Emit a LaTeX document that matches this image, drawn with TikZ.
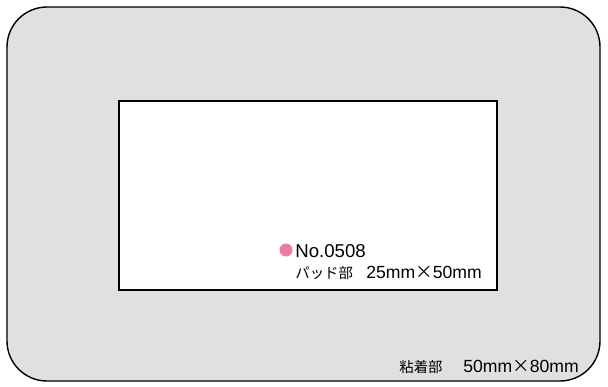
\documentclass[tikz,border=0pt]{standalone}
\usepackage{fontspec}
\setmainfont{Liberation Sans}
\newfontfamily\jpfont{Noto Sans CJK JP}
\newcommand{\bytimes}{{\jpfont ×}}
\definecolor{padpink}{HTML}{EC7BA4}
\definecolor{tapegray}{HTML}{E0E0E0}
\tikzset{
  lbl/.style={inner sep=0pt, anchor=base west},
}

\begin{document}
\begin{tikzpicture}[x=0.5pt,y=-0.5pt]
		\useasboundingbox (0,0) rectangle (608,386);
		% adhesive part
		\draw[fill=tapegray, line width=0.7pt, rounded corners=20pt] (7,7) rectangle (600,381);
		% pad part
		\draw[fill=white, line width=0.8pt] (119,101) rectangle (497,290);
		\fill[padpink] (286,250) circle (6.5);
		\node[lbl, font=\fontsize{9.3}{11}\selectfont] (num) at (295,257) {No.0508};
		\node[lbl, font=\jpfont\fontsize{7.2}{8}\selectfont] (padjp) at (295,278) {パッド部};
		\node[lbl, font=\fontsize{8.8}{10}\selectfont] (padsize) at (366,278) {25mm\bytimes 50mm};
		\node[lbl, font=\jpfont\fontsize{7.2}{8}\selectfont] (tapejp) at (399,372) {粘着部};
		\node[lbl, font=\fontsize{8.8}{10}\selectfont] (tapesize) at (463,372) {50mm\bytimes 80mm};
	\end{tikzpicture}
\end{document}
